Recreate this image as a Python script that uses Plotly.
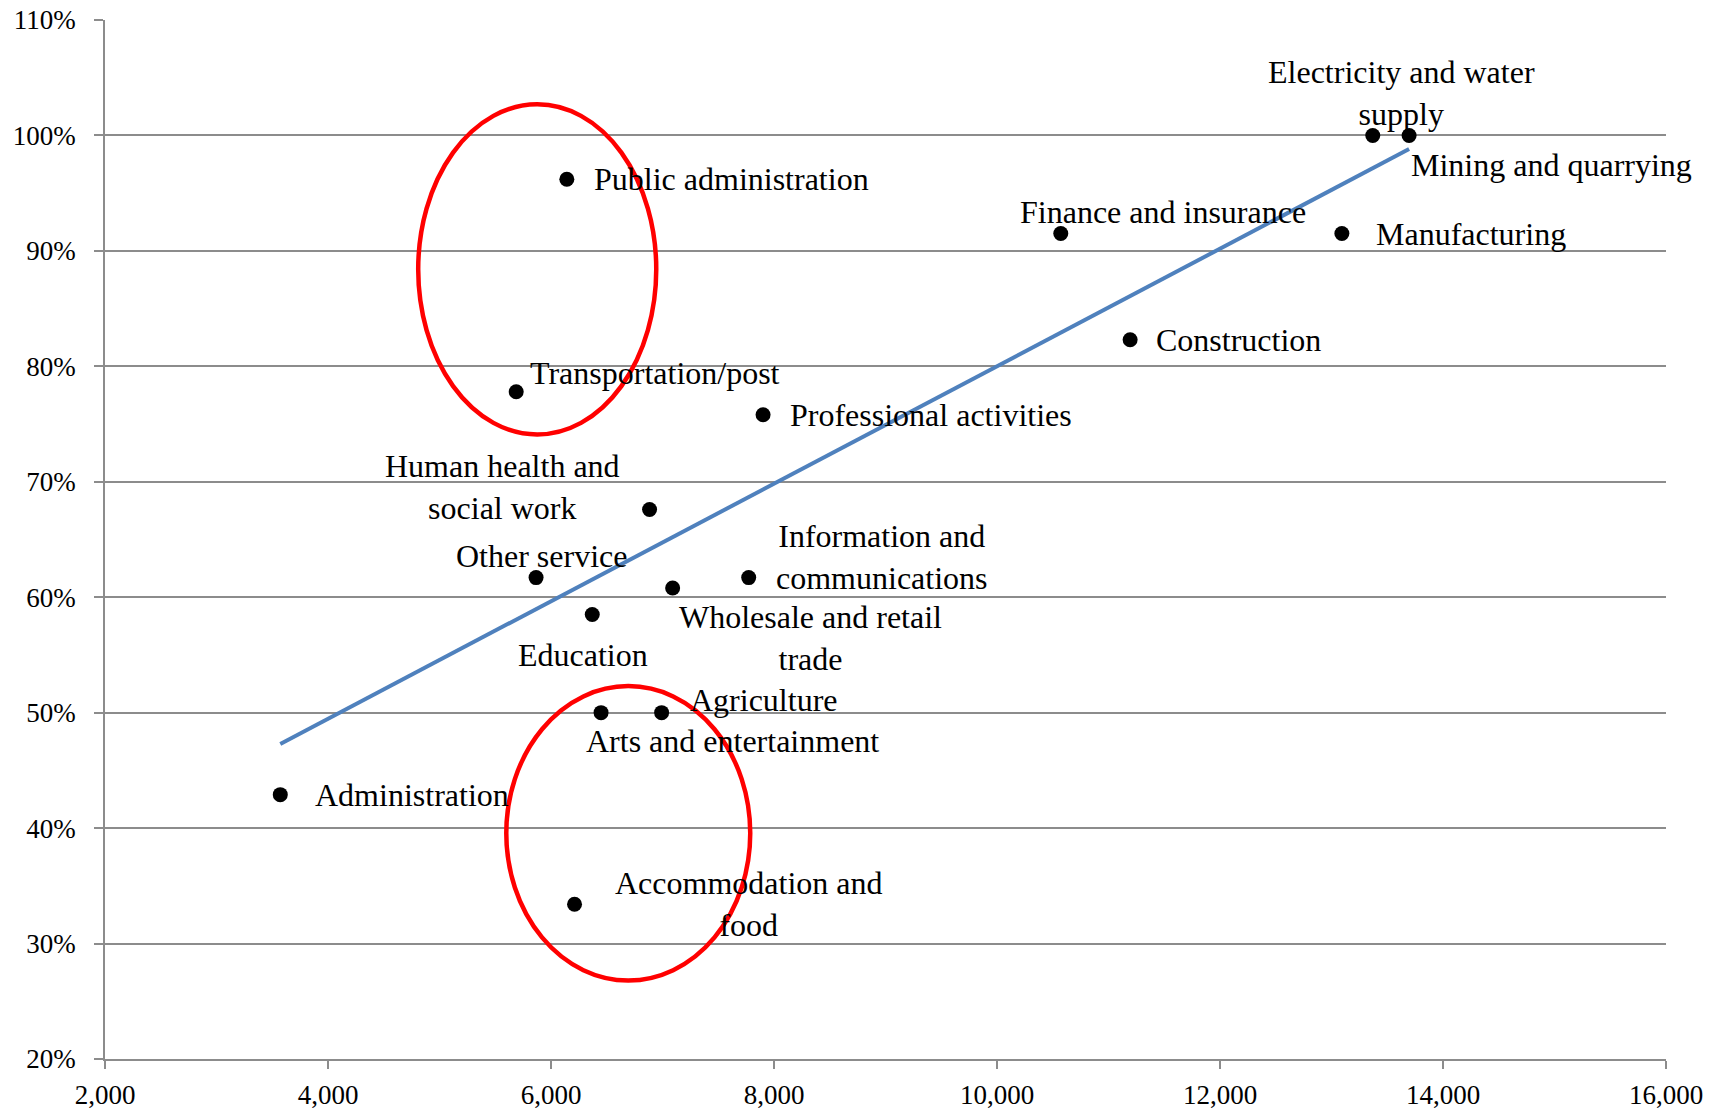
import numpy as np
import plotly.graph_objects as go

# ---- data ----
sectors = [
    "Electricity and water<br>supply", "Mining and quarrying", "Manufacturing",
    "Finance and insurance", "Construction", "Public administration",
    "Transportation/post", "Professional activities", "Human health and<br>social work",
    "Other service", "Wholesale and retail<br>trade", "Information and<br>communications",
    "Education", "Arts and entertainment", "Agriculture", "Administration",
    "Accommodation and<br>food",
]
income = [13370, 13696, 13093, 10572, 11194, 6142, 5688, 7902, 6884,
          5866, 7091, 7773, 6370, 6449, 6992, 3572, 6211]
share_pct = [100, 100, 91.5, 91.5, 82.3, 96.2, 77.8, 75.8, 67.6,
             61.7, 60.8, 61.7, 58.5, 50, 50, 42.9, 33.4]
x_ticks = [2000, 4000, 6000, 8000, 10000, 12000, 14000, 16000]
x_tick_labels = ["2,000", "4,000", "6,000", "8,000", "10,000", "12,000", "14,000", "16,000"]
y_ticks = [20, 30, 40, 50, 60, 70, 80, 90, 100, 110]
y_tick_labels = ["20%", "30%", "40%", "50%", "60%", "70%", "80%", "90%", "100%", "110%"]

# ---- label placement (pixel offsets from each point) ----
label_style = {
    "Electricity and water<br>supply": ("center", 29, 42),
    "Mining and quarrying": ("left", 0, -30),
    "Manufacturing": ("left", 32, 0),
    "Finance and insurance": ("center", 102, 22),
    "Construction": ("left", 24, 0),
    "Public administration": ("left", 25, 0),
    "Transportation/post": ("left", 12, 19),
    "Professional activities": ("left", 25, 0),
    "Human health and<br>social work": ("center", -147, 22),
    "Other service": ("center", 5, 22),
    "Wholesale and retail<br>trade": ("center", 138, -50),
    "Information and<br>communications": ("center", 133, 21),
    "Education": ("center", -9, -40),
    "Arts and entertainment": ("center", 131, -28),
    "Agriculture": ("left", 26, 13),
    "Administration": ("left", 33, 0),
    "Accommodation and<br>food": ("center", 174, 0),
}

FONT = "Liberation Serif, Times New Roman, serif"
GRID = "#8c8c8c"

fig = go.Figure()

# trendline (least squares)
coef = np.polyfit(income, share_pct, 1)
tx = np.array([min(income), max(income)])
fig.add_trace(go.Scatter(x=tx, y=np.polyval(coef, tx), mode="lines",
                         line=dict(color="#4F81BD", width=4), hoverinfo="skip",
                         showlegend=False))

fig.add_trace(go.Scatter(x=income, y=share_pct, mode="markers",
                         marker=dict(color="black", size=15),
                         text=sectors, showlegend=False))

for name, xv, yv in zip(sectors, income, share_pct):
    anchor, dx, dy = label_style[name]
    fig.add_annotation(x=xv, y=yv, text=name, showarrow=False,
                       xanchor=anchor, yanchor="middle", align="center",
                       xshift=dx, yshift=dy,
                       font=dict(family=FONT, size=32, color="black"))

# red highlight ellipses
fig.add_shape(type="circle", xref="x", yref="y", x0=4809, x1=6944, y0=74.1, y1=102.7,
              line=dict(color="#FF0000", width=4.5), layer="above")
fig.add_shape(type="circle", xref="x", yref="y", x0=5599, x1=7787, y0=26.8, y1=52.3,
              line=dict(color="#FF0000", width=4.5), layer="above")

fig.update_layout(
    width=1729, height=1108,
    margin=dict(l=97, r=71, t=12, b=57, autoexpand=False),
    paper_bgcolor="white", plot_bgcolor="white",
    font=dict(family=FONT, color="black"),
    showlegend=False,
)
fig.update_xaxes(range=[2000, 16000], tickvals=x_ticks, ticktext=x_tick_labels,
                 showgrid=False, zeroline=False, automargin=False,
                 ticklabeloverflow="allow",
                 showline=True, linecolor=GRID, linewidth=1.5,
                 ticks="outside", ticklen=8, tickcolor=GRID, tickwidth=1.5,
                 tickfont=dict(family=FONT, size=27, color="black"),
                 ticklabelstandoff=3)
fig.update_yaxes(range=[20, 110], tickvals=y_ticks, ticktext=y_tick_labels,
                 showgrid=True, gridcolor=GRID, gridwidth=1.5, zeroline=False,
                 automargin=False, ticklabeloverflow="allow",
                 showline=True, linecolor=GRID, linewidth=1.5,
                 ticks="outside", ticklen=9, tickcolor=GRID, tickwidth=1.5,
                 tickfont=dict(family=FONT, size=27, color="black"),
                 ticklabelstandoff=13)

fig.write_html("out.html")
